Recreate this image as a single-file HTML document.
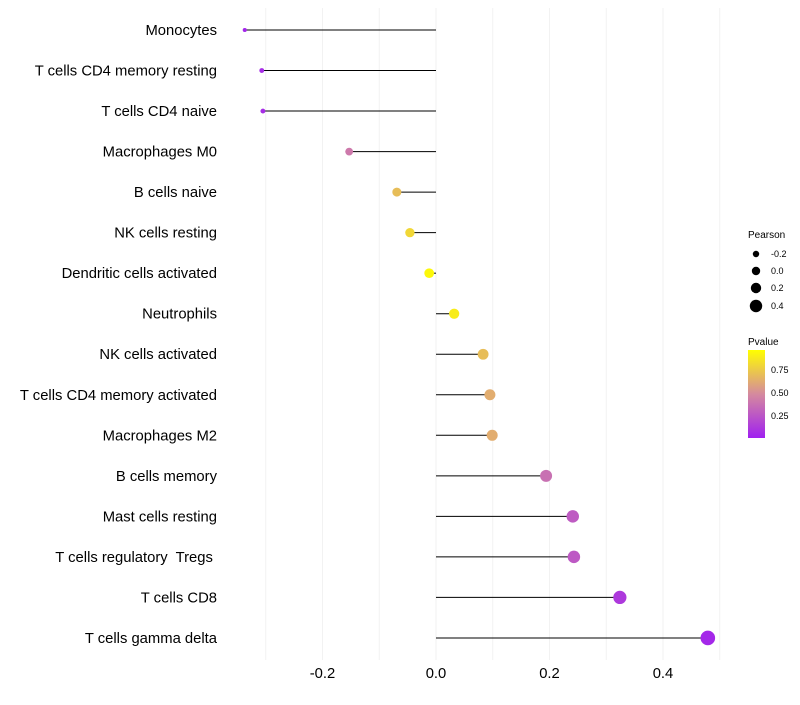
<!DOCTYPE html>
<html><head><meta charset="utf-8"><style>
body{margin:0;background:#fff;font-family:"Liberation Sans",sans-serif;}
text{white-space:pre;}
</style></head><body>
<svg id="chart" width="800" height="700" xmlns="http://www.w3.org/2000/svg">
<defs><linearGradient id="pg" x1="0" y1="1" x2="0" y2="0">
<stop offset="0" stop-color="#a020f0"/><stop offset="0.5" stop-color="#d58a9e"/><stop offset="1" stop-color="#ffff00"/>
</linearGradient></defs>
<g id="grid"></g><g id="marks"></g><g id="labels"></g>
<g font-size="9" fill="#000">
<text x="748" y="238" font-size="10">Pearson</text>
<circle cx="756" cy="254" r="3.2"/><text x="771" y="257">-0.2</text>
<circle cx="756" cy="271" r="4.2"/><text x="771" y="274">0.0</text>
<circle cx="756" cy="288" r="5.2"/><text x="771" y="291">0.2</text>
<circle cx="756" cy="306" r="6.2"/><text x="771" y="309">0.4</text>
<text x="748" y="345" font-size="10">Pvalue</text>
<rect x="748" y="350" width="17" height="88" fill="url(#pg)"/>
<text x="771" y="373">0.75</text><text x="771" y="396">0.50</text><text x="771" y="419">0.25</text>
</g>
</svg>
<script>
const categories=["Monocytes","T cells CD4 memory resting","T cells CD4 naive","Macrophages M0","B cells naive","NK cells resting","Dendritic cells activated","Neutrophils","NK cells activated","T cells CD4 memory activated","Macrophages M2","B cells memory","Mast cells resting","T cells regulatory  Tregs ","T cells CD8","T cells gamma delta"];
const pearson=[-0.337,-0.307,-0.305,-0.153,-0.069,-0.046,-0.012,0.032,0.083,0.095,0.099,0.194,0.241,0.243,0.324,0.479];
const pvalue=[0.03,0.06,0.06,0.42,0.72,0.83,0.97,0.92,0.72,0.65,0.65,0.38,0.28,0.27,0.12,0.04];
const xTicks=[-0.2,0,0.2,0.4];
const xTickLabels=["-0.2","0.0","0.2","0.4"];
const NS="http://www.w3.org/2000/svg";
const x=v=>436+v*567.5;
const y=i=>30+i*40.53;
const r=v=>Math.sqrt(4+60*Math.max(0,v+0.34));
function lerp(a,b,t){return a.map((c,k)=>Math.round(c+(b[k]-c)*t));}
function col(p){const P=[160,32,240],M=[213,138,158],Y=[255,255,0];
 const c=p<0.5?lerp(P,M,p/0.5):lerp(M,Y,(p-0.5)/0.5);return `rgb(${c})`;}
function mk(tag,attrs,parent){const e=document.createElementNS(NS,tag);for(const k in attrs)e.setAttribute(k,attrs[k]);parent.appendChild(e);return e;}
const grid=document.getElementById('grid'),marks=document.getElementById('marks'),labels=document.getElementById('labels');
for(let v=-0.3;v<=0.51;v+=0.1){const g=mk('line',{x1:x(v),x2:x(v),y1:8,y2:660,stroke:'#f2f2f2','stroke-width':1},grid);

}
xTicks.forEach((v,i)=>{const t=mk('text',{x:x(v),y:678,'text-anchor':'middle','font-size':14.8,fill:'#000'},labels);t.textContent=xTickLabels[i];

});
categories.forEach((c,i)=>{
 const t=mk('text',{x:217,y:y(i)+5,'text-anchor':'end','font-size':14.8,fill:'#000'},labels);t.textContent=c;
 
 
 const l=mk('line',{x1:x(0),x2:x(pearson[i]),y1:y(i),y2:y(i),stroke:'#000','stroke-width':1},marks);
 
 
 const d=mk('circle',{cx:x(pearson[i]),cy:y(i),r:r(pearson[i]),fill:col(pvalue[i])},marks);
 
 
});
</script>
</body></html>
